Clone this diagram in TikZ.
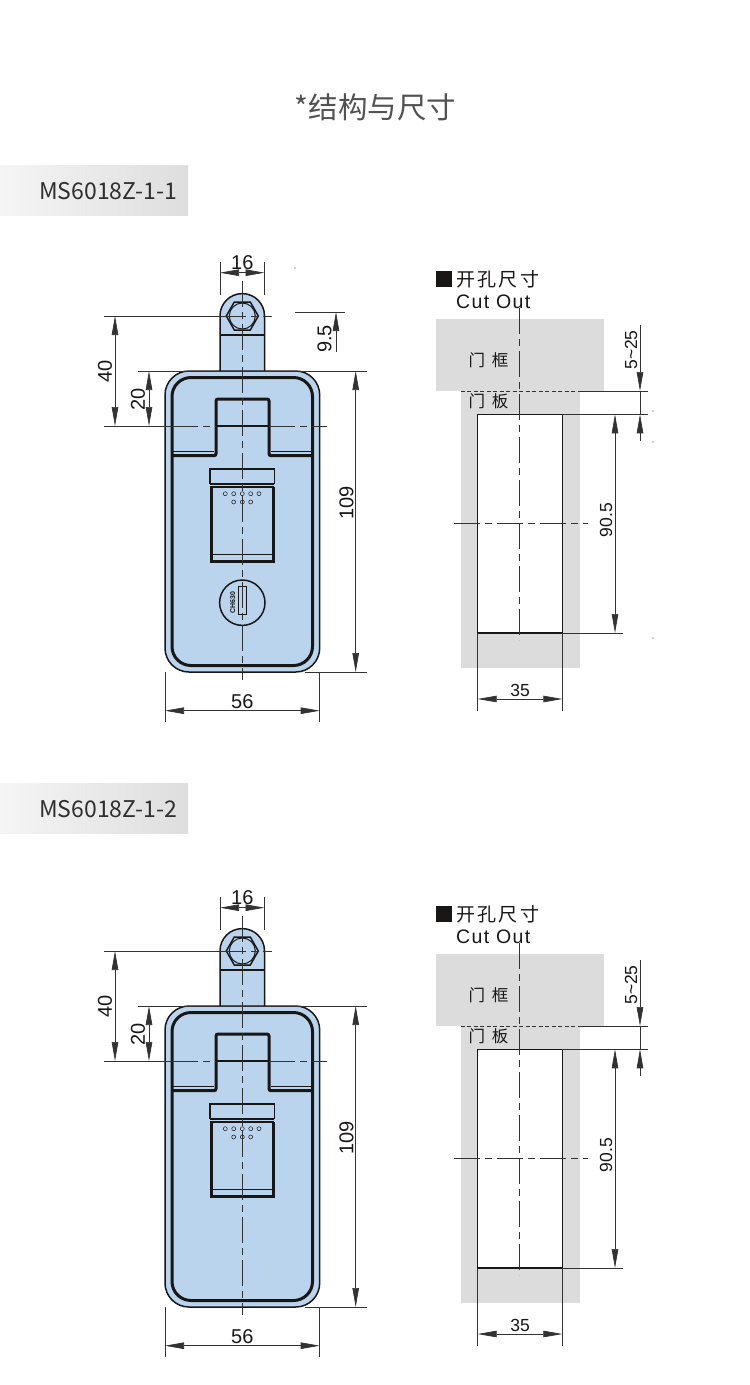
\documentclass[tikz,border=0pt]{standalone}
\usepackage{fontspec}
\setmainfont{Liberation Sans}
\newfontfamily\cjkfont{Noto Sans CJK SC}
\newfontfamily\cutfont[LetterSpace=7]{Liberation Sans}
\usetikzlibrary{arrows.meta}
\definecolor{lockblue}{RGB}{186,212,238}
\definecolor{cutgray}{RGB}{220,220,220}
\definecolor{dimgray}{RGB}{50,50,50}
\definecolor{inkblack}{RGB}{25,22,22}
\tikzset{
  bigtip/.tip={Stealth[length=19pt,width=6.5pt,inset=0pt]},
  dimline/.style={draw=dimgray,line width=0.7pt,bigtip-bigtip},
  oneway/.style={draw=dimgray,line width=0.7pt,-bigtip},
  extline/.style={draw=dimgray,line width=0.7pt},
  centreline/.style={draw=dimgray,line width=0.7pt,dash pattern=on 26pt off 5pt on 7pt off 5pt},
  dimtext/.style={font=\fontsize{20}{20}\selectfont,text=inkblack,inner sep=0pt},
  cuttext/.style={font=\fontsize{17.5}{18}\selectfont,text=inkblack,inner sep=0pt},
  doortext/.style={font=\cjkfont\fontsize{16.5}{17}\selectfont,text=inkblack,inner sep=0pt},
  modelbox/.style={left color=white!96!black,right color=white!87!black,draw=none},
  modeltext/.style={font=\cjkfont\fontsize{23}{24}\selectfont,text=black!82,inner sep=0pt,anchor=west},
  lockline/.style={draw=inkblack,line width=1.5pt},
  thickline/.style={draw=inkblack,line width=3pt},
  lockview/.pic={
    %tab and body
    \filldraw[lockline,fill=lockblue,rounded corners=22.2pt] (220,375) -- (220,293.6) -- (264.5,293.6) -- (264.5,375);
    \filldraw[lockline,fill=lockblue,rounded corners=24pt] (165,371) rectangle (319.7,672);
    \draw[thickline,rounded corners=19pt] (172,377.5) rectangle (312.5,665.5);
    \draw[lockline] (220,335) -- (264.5,335);
    %hexagon
    \draw[lockline] (258.3,316) -- (250.3,302) -- (234.3,302) -- (226.3,316) -- (234.3,330) -- (250.3,330) -- cycle;
    \draw[line width=1pt,draw=inkblack] (242.3,316) circle (13);
    %recess
    \draw[thickline,rounded corners=2pt] (172,455.7) -- (216,455.7) -- (216,399) -- (269,399) -- (269,455.7) -- (312,455.7);
    \draw[draw=inkblack,line width=1.2pt] (172,451.8) -- (214,451.8);
    \draw[draw=inkblack,line width=1.2pt] (271,451.8) -- (312,451.8);
    \draw[draw=inkblack,line width=1.3pt] (216,426) -- (269,426);
    %latch
    \draw[lockline] (210,484) -- (210,469) -- (274.3,469) -- (274.3,484);
    \draw[lockline] (210,484) -- (274.3,484);
    \draw[lockline] (210,487) -- (274.3,487);
    \draw[thickline] (211.5,487) -- (211.5,561.5) -- (273,561.5) -- (273,487);
    \draw[lockline] (210,554.5) -- (274.3,554.5);
    \foreach \px in {225.3,233.7,242.3,250.7,259}
      \draw[line width=0.5pt,draw=inkblack] (\px,493.7) circle (2);
    \foreach \px in {233.7,242.3,250.7}
      \draw[line width=0.5pt,draw=inkblack] (\px,502) circle (2);
    %centre lines
    \draw[extline] (104,316) -- (220,316);
    \draw[centreline] (220,316) -- (272,316);
    \draw[extline] (104,426) -- (172,426);
    \draw[centreline] (172,426) -- (216,426);
    \draw[centreline] (269,426) -- (327,426);
    \draw[extline] (138,371) -- (367,371);
    \draw[extline] (305,672) -- (367,672);
    %dimension 16
    \draw[extline] (220,262) -- (220,295);
    \draw[extline] (264.5,262) -- (264.5,295);
    \draw[dimline] (220,272.7) -- (264.5,272.7);
    \node[dimtext] (width16) at (242.3,263) {16};
    %dimensions 40 and 20
    \draw[dimline] (115,316) -- (115,426);
    \node[dimtext,rotate=90] (height40) at (105,371) {40};
    \draw[dimline] (149,371) -- (149,426);
    \node[dimtext,rotate=90] (height20) at (138,399) {20};
    %dimension 109
    \draw[dimline] (355.7,371) -- (355.7,672);
    \node[dimtext,rotate=90] (height109) at (346.5,503) {109};
    %dimension 56
    \draw[extline] (165,672) -- (165,722);
    \draw[extline] (319.7,672) -- (319.7,722);
    \draw[dimline] (165,710.7) -- (319.7,710.7);
    \node[dimtext] (width56) at (242.3,702) {56};
  },
  cutview/.pic={
    %door frame and panel
    \fill[cutgray] (435.7,319) rectangle (604.3,391);
    \fill[cutgray] (460.7,391) rectangle (580,668);
    \filldraw[fill=white,draw=inkblack,line width=1.4pt] (477.7,414.3) rectangle (562.3,633);
    \node[doortext] (frametext) at (488.5,360.5) {门\hspace{0.42em}框};
    \node[doortext] (paneltext) at (488.5,401.5) {门\hspace{0.42em}板};
    %heading
    \fill[inkblack] (435.7,270.7) rectangle (452,286.7);
    \node[font=\cjkfont\fontsize{19}{19}\selectfont,text=inkblack,inner sep=0pt,anchor=west] (cuthead) at (456,279) {开\hspace{0.12em}孔\hspace{0.12em}尺\hspace{0.12em}寸};
    \node[font=\cutfont\fontsize{19.5}{19.5}\selectfont,text=inkblack,inner sep=0pt,anchor=west] (cutsub) at (456,301.5) {Cut Out};
    %centre lines
    \draw[centreline] (519.3,308) -- (519.3,640);
    \draw[centreline] (454,523) -- (588,523);
    %dimension 5~25
    \draw[extline,dash pattern=on 4pt off 2.5pt] (460.7,391) -- (580,391);
    \draw[extline] (580,391) -- (647.7,391);
    \draw[extline] (562.3,414.3) -- (647.7,414.3);
    \draw[oneway] (640,325) -- (640,391);
    \draw[extline] (640,391) -- (640,414.3);
    \draw[oneway] (640,440.7) -- (640,414.3);
    \node[cuttext,rotate=90] (gap525) at (631,350) {5\textasciitilde25};
    %dimension 90.5
    \draw[extline] (562.3,633) -- (623,633);
    \draw[dimline] (615,414.3) -- (615,633);
    \node[cuttext,rotate=90] (height905) at (606,520) {90.5};
    %dimension 35
    \draw[extline] (477.7,633) -- (477.7,711);
    \draw[extline] (562.3,633) -- (562.3,711);
    \draw[dimline] (477.7,699) -- (562.3,699);
    \node[cuttext] (width35) at (520,690.5) {35};
  }
}
\begin{document}
\begin{tikzpicture}[x=1pt,y=-1pt]
    \useasboundingbox (0,0) rectangle (750,1385);
    \fill[white] (0,0) rectangle (750,1385);

    %title
    \node[font=\cjkfont\fontsize{29.5}{30}\selectfont,text=black!68,inner sep=0pt] (title) at (375.5,107) {*结构与尺寸};

    %first model
    \shade[modelbox] (0,165) rectangle (188,215);
    \node[modeltext] (modelone) at (39,191) {MS6018Z-1-1};
    \pic (one) at (0,0) {lockview};
    \pic (cutone) at (0,0) {cutview};

    %key plug and 9.5
    \draw[lockline] (242.3,602.7) circle (22.7);
    \draw[line width=1pt,draw=inkblack,fill=lockblue] (238.7,586.7) rectangle (246.7,614.3);
    \node[font=\bfseries\fontsize{7}{7}\selectfont,rotate=90,inner sep=0pt,text=inkblack] (keycode) at (232.7,602.5) {CH630};
    \draw[centreline] (242.3,281) -- (242.3,680);
    \draw[extline] (295,312) -- (345,312);
    \draw[oneway] (336,351.7) -- (336,312);
    \node[dimtext,rotate=90] (height95) at (324.5,339) {9.5};

    %specks
    \foreach \px/\py in {295/268,653/411,653/442,653/638}
      \fill[dimgray] (\px,\py) circle (0.7);

    %second model
    \shade[modelbox] (0,783) rectangle (188,833);
    \node[modeltext] (modeltwo) at (39,809) {MS6018Z-1-2};
    \pic (two) at (0,635) {lockview};
    \pic (cuttwo) at (0,635) {cutview};
    \draw[centreline] (242.3,916) -- (242.3,1315);
\end{tikzpicture}
\end{document}
